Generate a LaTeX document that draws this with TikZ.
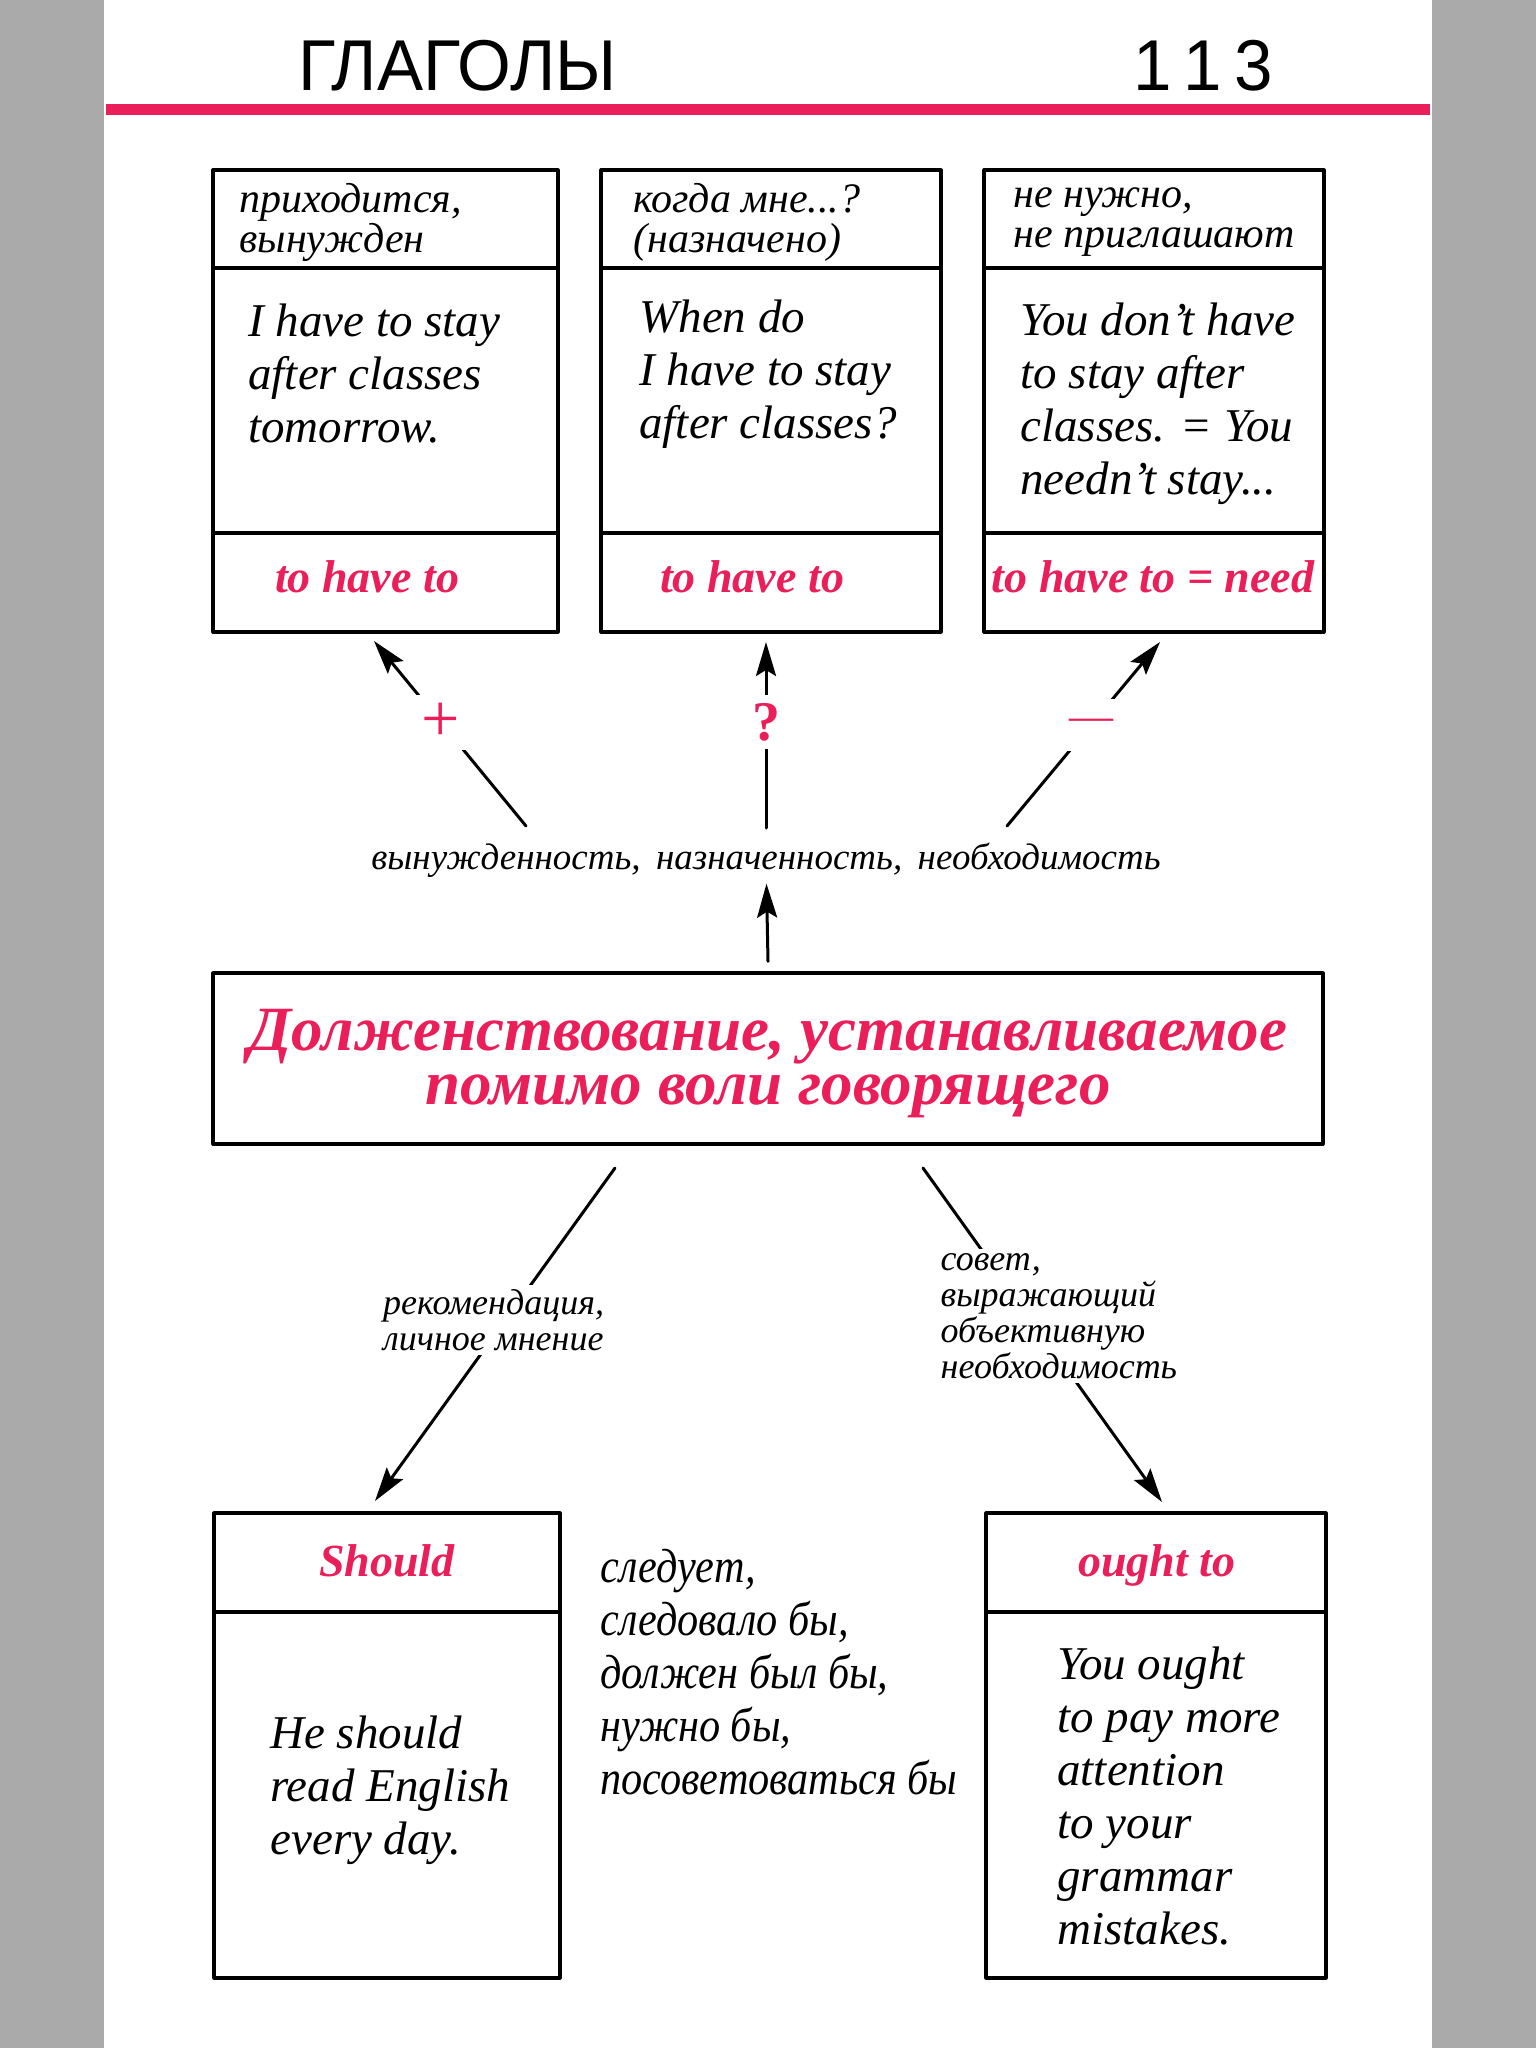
\documentclass[tikz,border=0pt]{standalone}
\usepackage{fontspec}
\setmainfont{Liberation Serif}
\newfontfamily\narrowserif{Liberation Serif}[FakeStretch=0.88]
\newfontfamily\headfont{Liberation Sans}[FakeStretch=0.96]
\usetikzlibrary{arrows.meta}
\definecolor{rubric}{RGB}{234,30,88}
\definecolor{margin}{RGB}{170,170,170}

\begin{document}
\begin{tikzpicture}[x=0.5pt,y=-0.5pt,line cap=round,line join=round,
  frame/.style={line width=1.6pt},
  link/.style={line width=1.5pt,-{Stealth[length=17pt,width=10pt,inset=3pt]}},
  head/.style={font=\itshape\fontsize{21}{20}\selectfont,align=left,inner sep=0pt,anchor=west},
  body/.style={font=\itshape\fontsize{23.5}{26.5}\selectfont,align=left,inner sep=0pt,anchor=west},
  term/.style={font=\bfseries\itshape\fontsize{23}{26}\selectfont,text=rubric,inner sep=0pt,anchor=base},
  sign/.style={font=\fontsize{34}{34}\selectfont,text=rubric,fill=white,inner sep=4pt,minimum height=26pt},
  note/.style={font=\itshape\fontsize{18}{18}\selectfont,align=left,fill=white,inner sep=2pt}]
  \useasboundingbox (0,0) rectangle (1536,2048);
  \fill[margin] (0,0) rectangle (104,2048);
  \fill[margin] (1432,0) rectangle (1536,2048);
  \node[anchor=base west,inner sep=0pt,font=\headfont\fontsize{36}{36}\selectfont] (chapter) at (298,91) {ГЛАГОЛЫ};
  \node[anchor=base east,inner sep=0pt,font=\headfont\fontsize{36}{36}\selectfont] (page) at (1273,91) {1\kern6pt1\kern6pt3};
  \draw[rubric,line width=5.5pt,line cap=butt] (106,110) -- (1430,110);

  \draw[frame] (213,170) rectangle (558,632);
  \draw[frame] (213,268) -- (558,268);
  \draw[frame] (213,533) -- (558,533);
  \draw[frame] (601,170) rectangle (941,632);
  \draw[frame] (601,268) -- (941,268);
  \draw[frame] (601,533) -- (941,533);
  \draw[frame] (984,170) rectangle (1324,632);
  \draw[frame] (984,268) -- (1324,268);
  \draw[frame] (984,533) -- (1324,533);
  \node[head] (forced) at (239,222) {приходится,\\вынужден};
  \node[head] (when) at (633,222) {когда мне...?\\(назначено)};
  \node[head] (noneed) at (1013,222) {не нужно,\\не приглашают};
  \node[body] (stay) at (248,374) {I have to stay\\after classes\\tomorrow.};
  \node[body] (ask) at (639,374) {When do\\I have to stay\\after classes?};
  \node[body] (deny) at (1020,404) {You don’t have\\to stay after\\classes. = You\\needn’t stay...};
  \node[term] (have1) at (367,592) {to have to};
  \node[term] (have2) at (752,592) {to have to};
  \node[term] (have3) at (1153,592) {to have to = need};

  \node[font=\itshape\fontsize{18.5}{19}\selectfont,inner sep=3pt] (duty) at (766,860) {вынужденность,\, назначенность,\, необходимость};
  \coordinate (plusfrom) at (526,826);
  \coordinate (plusto) at (374,641);
  \coordinate (askfrom) at (766,828);
  \coordinate (askto) at (766,642);
  \coordinate (minusfrom) at (1007,826);
  \coordinate (minusto) at (1160,642);
  \draw[link] (plusfrom) -- node[sign,pos=0.56] (plus) {+} (plusto);
  \draw[link] (askfrom) -- node[sign,pos=0.57,font=\bfseries\fontsize{28}{28}\selectfont] (query) {?} (askto);
  \draw[link] (minusfrom) -- node[sign,pos=0.55,font=\fontsize{22}{22}\selectfont] (minus) {—} (minusto);

  \node[draw,frame,minimum width=555pt,minimum height=85.5pt] (must) at (768,1058.5) {};
  \node[align=center,inner sep=0pt,font=\bfseries\itshape\fontsize{31.5}{27}\selectfont,text=rubric] (musttext) at (768,1064)
    {Долженствование, устанавливаемое\\помимо воли говорящего};
  \draw[link] ([yshift=5pt]must.north) -- (duty);

  \coordinate (advfrom) at (615,1168);
  \coordinate (advto) at (375,1501);
  \coordinate (objfrom) at (923,1168);
  \coordinate (objto) at (1162,1502);
  \draw[link] (advfrom) -- node[note,pos=0.456,xshift=-6pt] (advice) {рекомендация,\\личное мнение} (advto);
  \draw[link] (objfrom) -- node[note,pos=0.443,xshift=15pt] (counsel) {совет,\\выражающий\\объективную\\необходимость} (objto);

  \draw[frame] (214,1513) rectangle (560,1978);
  \draw[frame] (214,1612) -- (560,1612);
  \draw[frame] (986,1513) rectangle (1326,1978);
  \draw[frame] (986,1612) -- (1326,1612);
  \node[term] (should) at (387,1576) {Should};
  \node[term] (ought) at (1157,1576) {ought to};
  \node[body] (read) at (270,1790) {He should\\read English\\every day.};
  \node[body,font=\narrowserif\itshape\fontsize{24}{26.5}\selectfont] (meaning) at (600,1672) {следует,\\следовало бы,\\должен был бы,\\нужно бы,\\посоветоваться бы};
  \node[body] (attend) at (1057,1796) {You ought\\to pay more\\attention\\to your\\grammar\\mistakes.};
\end{tikzpicture}
\end{document}
